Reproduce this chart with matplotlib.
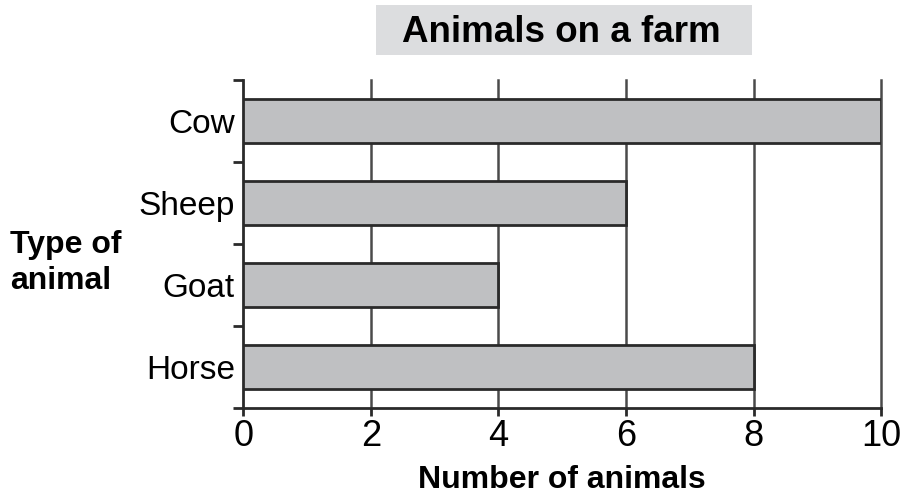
import matplotlib.pyplot as plt
import matplotlib.patches as patches
import numpy as np

animals = ['Cow', 'Sheep', 'Goat', 'Horse']
counts = [10, 6, 4, 8]
xticks = [0, 2, 4, 6, 8, 10]

plt.rcParams['font.family'] = ['Liberation Sans', 'DejaVu Sans']

fig = plt.figure(figsize=(9.04, 4.99), dpi=100)
ax = fig.add_axes([0.269, 0.182, 0.706, 0.658])

y = np.arange(len(animals))
ax.barh(y, counts, height=0.54, color='#bfc0c2', edgecolor='#2a2a2a', linewidth=2, zorder=3)

ax.set_xlim(0, 10)
ax.set_ylim(len(animals) - 0.5, -0.5)
ax.set_xticks(xticks)
ax.set_xticklabels([str(v) for v in xticks], fontsize=26)
ax.set_yticks(y)
ax.set_yticklabels(animals, fontsize=24)
ax.tick_params(axis='y', which='major', length=0, pad=6)
ax.set_yticks(np.arange(len(animals) + 1) - 0.5, minor=True)
ax.tick_params(axis='y', which='minor', length=7, width=2, color='#2a2a2a')
ax.tick_params(axis='x', length=6, width=2, color='#2a2a2a', pad=2)

for v in xticks[1:]:
    ax.axvline(v, color='#4a4a4a', linewidth=1.8, zorder=1, clip_on=False)

for s in ['top', 'right']:
    ax.spines[s].set_visible(False)
for s in ['left', 'bottom']:
    ax.spines[s].set_linewidth(2)
    ax.spines[s].set_color('#2a2a2a')

ax.set_xlabel('Number of animals', fontsize=23, fontweight='bold', labelpad=8)
fig.text(0.011, 0.473, 'Type of\nanimal', fontsize=23, fontweight='bold', ha='left', va='center',
         linespacing=1.25)

fig.patches.append(patches.Rectangle((0.416, 0.890), 0.416, 0.100, transform=fig.transFigure,
                                     facecolor='#dcdddf', edgecolor='none', zorder=0))
fig.text(0.621, 0.935, 'Animals on a farm', fontsize=26.5, fontweight='bold', ha='center', va='center')

plt.savefig('out.png', dpi=100)
